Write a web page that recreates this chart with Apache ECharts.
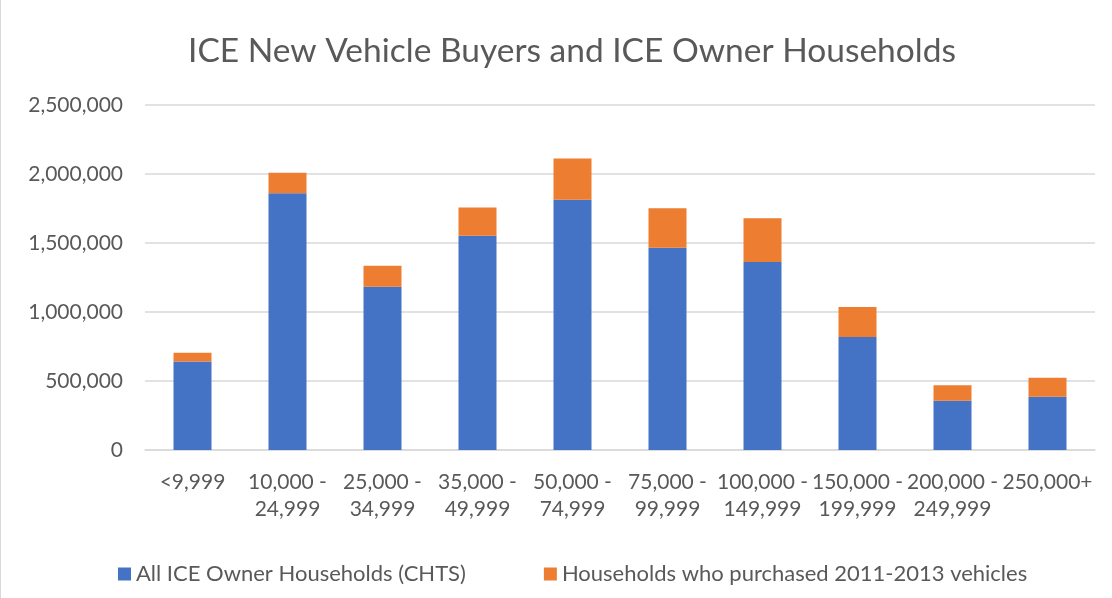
<!DOCTYPE html>
<html><head><meta charset="utf-8">
<script src="https://cdn.jsdelivr.net/npm/echarts@6/dist/echarts.min.js"></script>
<style>html,body{margin:0;padding:0;background:#fff}#c{width:1112px;height:598px;box-sizing:border-box;border-left:1px solid #d9d9d9}</style>
</head><body><div id="c"></div>
<script>
const categories = ['<9,999','10,000 -\n24,999','25,000 -\n34,999','35,000 -\n49,999','50,000 -\n74,999','75,000 -\n99,999','100,000 -\n149,999','150,000 -\n199,999','200,000 -\n249,999','250,000+'];
const iceOwners = [642000, 1860000, 1183000, 1553000, 1814000, 1466000, 1363000, 819000, 357000, 386000];
const purchasers = [63000, 149000, 152000, 205000, 299000, 285000, 316000, 217000, 112000, 138000];
const seriesNames = ['All ICE Owner Households (CHTS)', 'Households who purchased 2011-2013 vehicles'];
const font = 'Lato, "Open Sans", sans-serif';
const chart = echarts.init(document.getElementById('c'));
chart.setOption({
  animation:false,
  title:{text:'ICE New Vehicle Buyers and ICE Owner Households',left:182,top:29,textStyle:{fontFamily:font,fontSize:33.5,fontWeight:'normal',color:'#595959'}},
  grid:{left:144,right:17,top:105,bottom:148},
  legend:{bottom:8,left:112,itemWidth:13,itemHeight:13,itemGap:78,icon:'rect',textStyle:{fontFamily:font,fontSize:22,color:'#595959'},data:seriesNames},
  xAxis:{type:'category',data:categories,axisLine:{lineStyle:{color:'#d9d9d9',width:1.5}},axisTick:{show:false},axisLabel:{interval:0,fontFamily:font,fontSize:21,color:'#595959',lineHeight:27,margin:19}},
  yAxis:{type:'value',min:0,max:2500000,interval:500000,axisLine:{show:false},axisTick:{show:false},splitLine:{lineStyle:{color:'#d9d9d9',width:1.5}},axisLabel:{fontFamily:font,fontSize:21,color:'#595959',margin:22,formatter:v=>v.toLocaleString('en-US')}},
  series:[
    {name:seriesNames[0],type:'bar',stack:'a',data:iceOwners,barWidth:38,itemStyle:{color:'#4472c4'}},
    {name:seriesNames[1],type:'bar',stack:'a',data:purchasers,barWidth:38,itemStyle:{color:'#ed7d31'}}
  ]
});
</script></body></html>
